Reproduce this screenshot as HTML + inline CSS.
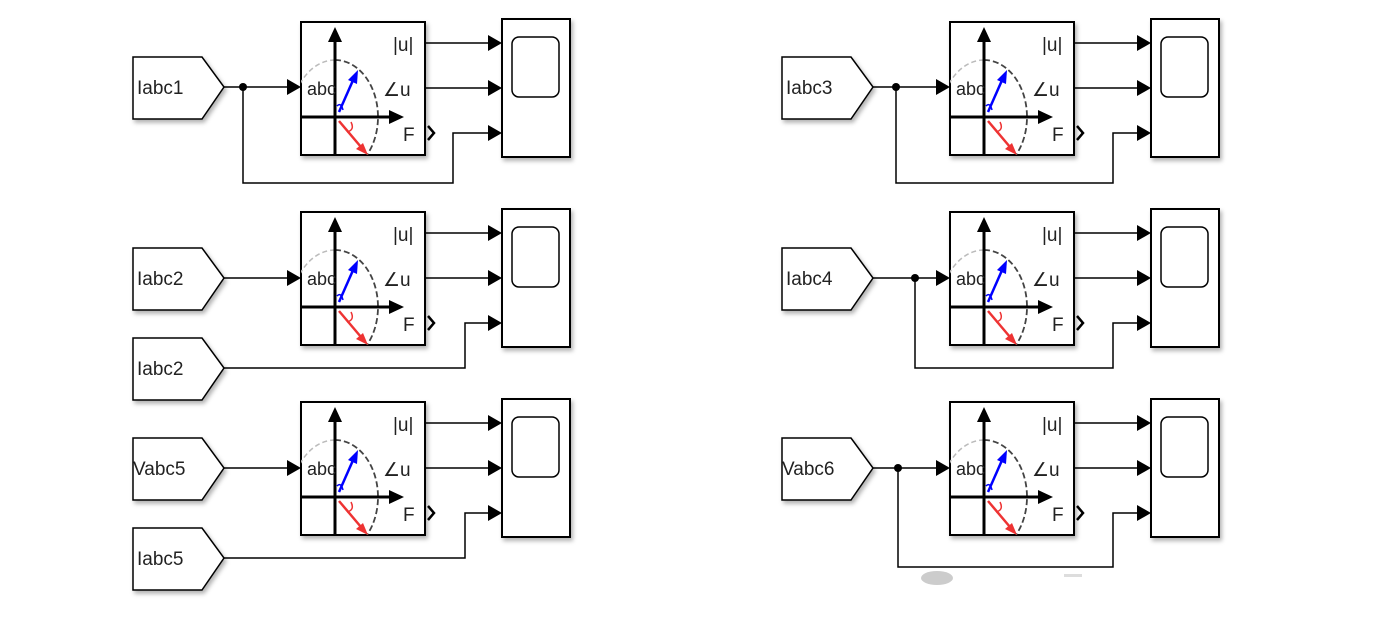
<!DOCTYPE html>
<html><head><meta charset="utf-8"><style>
html,body{margin:0;padding:0;background:#fff;width:1400px;height:642px;overflow:hidden}
svg{display:block}
text{font-family:"Liberation Sans",sans-serif;fill:#222}
</style></head><body>
<svg width="1400" height="642" viewBox="0 0 1400 642" xmlns="http://www.w3.org/2000/svg">
<defs>
<filter id="sh" x="-10%" y="-10%" width="130%" height="130%"><feDropShadow dx="2" dy="3" stdDeviation="2" flood-color="#000" flood-opacity="0.3"/></filter>
<clipPath id="fc"><rect x="0" y="0" width="124" height="133"/></clipPath>
<g id="fft">
<rect x="0" y="0" width="124" height="133" fill="#fff" stroke="#000" stroke-width="2" filter="url(#sh)"/>
<g clip-path="url(#fc)">
<path d="M34,38 A43,57 0 0 0 -9,95" fill="none" stroke="#bbb" stroke-width="1.5" stroke-dasharray="5,3"/>
<path d="M34,38 A43,57 0 0 1 77,95 A43,57 0 0 1 66,133" fill="none" stroke="#444" stroke-width="1.8" stroke-dasharray="6,3"/>
</g>
<line x1="34" y1="133" x2="34" y2="18" stroke="#000" stroke-width="3"/>
<polygon points="34,5 27,20 41,20" fill="#000"/>
<line x1="0" y1="95" x2="90" y2="95" stroke="#000" stroke-width="3"/>
<polygon points="103,95 88,88 88,102" fill="#000"/>
<line x1="38" y1="90" x2="53" y2="56" stroke="#00f" stroke-width="2.5"/>
<polygon points="57,48 47,58 56,62" fill="#00f"/>
<path d="M36,84 Q40,80 42,88" fill="none" stroke="#00f" stroke-width="1.5"/>
<line x1="38" y1="99" x2="60" y2="125" stroke="#e33" stroke-width="2.5"/>
<polygon points="67,133 55,127 62,121" fill="#e33"/>
<path d="M50,100 Q54,108 46,110" fill="none" stroke="#e33" stroke-width="1.5"/>
<polyline points="127,104 133,111 127,118" fill="none" stroke="#000" stroke-width="2.5"/>
</g>
<g id="scope">
<rect x="0" y="0" width="68" height="138" fill="#fff" stroke="#000" stroke-width="2" filter="url(#sh)"/>
<rect x="10" y="18" width="47" height="60" rx="7" fill="#fff" stroke="#000" stroke-width="1.5"/>
</g>
<g id="goto">
<polygon points="0,-30 69,-30 91,0 69,32 0,32" fill="#fff" stroke="#000" stroke-width="1.5" filter="url(#sh)"/>
</g>
<polygon id="ah" points="0,0 -14,-8 -14,8" fill="#000"/>
</defs>

<g fill="none" stroke="#000" stroke-width="1.5">
<path d="M224,87 H290 M243,87 V183 H453 V133 H490 M425,43 H490 M425,88 H490"/>
<path d="M224,278 H290 M425,233 H490 M425,278 H490 M224,368 H465 V323 H490"/>
<path d="M224,468 H290 M425,423 H490 M425,468 H490 M224,558 H465 V513 H490"/>
<path d="M873,87 H938 M896,87 V183 H1113 V133 H1139 M1073,43 H1139 M1073,88 H1139"/>
<path d="M873,278 H938 M915,278 V368 H1113 V323 H1139 M1073,233 H1139 M1073,278 H1139"/>
<path d="M873,468 H938 M898,468 V567 H1113 V513 H1139 M1073,423 H1139 M1073,468 H1139"/>
</g>
<g fill="#000">
<circle cx="243" cy="87" r="4"/><circle cx="896" cy="87" r="4"/><circle cx="915" cy="278" r="4"/><circle cx="898" cy="468" r="4"/>
</g>
<use href="#ah" x="301" y="87"/><use href="#ah" x="301" y="278"/><use href="#ah" x="301" y="468"/>
<use href="#ah" x="950" y="87"/><use href="#ah" x="950" y="278"/><use href="#ah" x="950" y="468"/>
<use href="#ah" x="502" y="43"/><use href="#ah" x="502" y="88"/><use href="#ah" x="502" y="133"/>
<use href="#ah" x="502" y="233"/><use href="#ah" x="502" y="278"/><use href="#ah" x="502" y="323"/>
<use href="#ah" x="502" y="423"/><use href="#ah" x="502" y="468"/><use href="#ah" x="502" y="513"/>
<use href="#ah" x="1151" y="43"/><use href="#ah" x="1151" y="88"/><use href="#ah" x="1151" y="133"/>
<use href="#ah" x="1151" y="233"/><use href="#ah" x="1151" y="278"/><use href="#ah" x="1151" y="323"/>
<use href="#ah" x="1151" y="423"/><use href="#ah" x="1151" y="468"/><use href="#ah" x="1151" y="513"/>

<use href="#goto" x="133" y="87"/><text x="137" y="94" font-size="19">Iabc1</text>
<use href="#goto" x="133" y="278"/><text x="137" y="285" font-size="19">Iabc2</text>
<use href="#goto" x="133" y="368"/><text x="137" y="375" font-size="19">Iabc2</text>
<use href="#goto" x="133" y="468"/><text x="133" y="475" font-size="19">Vabc5</text>
<use href="#goto" x="133" y="558"/><text x="137" y="565" font-size="19">Iabc5</text>
<use href="#goto" x="782" y="87"/><text x="786" y="94" font-size="19">Iabc3</text>
<use href="#goto" x="782" y="278"/><text x="786" y="285" font-size="19">Iabc4</text>
<use href="#goto" x="782" y="468"/><text x="782" y="475" font-size="19">Vabc6</text>

<g transform="translate(301,22)"><use href="#fft"/><text x="6" y="73" font-size="18">abc</text><text x="92" y="29" font-size="19">|u|</text><text x="82" y="74" font-size="19">∠u</text><text x="102" y="119" font-size="19">F</text></g>
<g transform="translate(301,212)"><use href="#fft"/><text x="6" y="73" font-size="18">abc</text><text x="92" y="29" font-size="19">|u|</text><text x="82" y="74" font-size="19">∠u</text><text x="102" y="119" font-size="19">F</text></g>
<g transform="translate(301,402)"><use href="#fft"/><text x="6" y="73" font-size="18">abc</text><text x="92" y="29" font-size="19">|u|</text><text x="82" y="74" font-size="19">∠u</text><text x="102" y="119" font-size="19">F</text></g>
<g transform="translate(950,22)"><use href="#fft"/><text x="6" y="73" font-size="18">abc</text><text x="92" y="29" font-size="19">|u|</text><text x="82" y="74" font-size="19">∠u</text><text x="102" y="119" font-size="19">F</text></g>
<g transform="translate(950,212)"><use href="#fft"/><text x="6" y="73" font-size="18">abc</text><text x="92" y="29" font-size="19">|u|</text><text x="82" y="74" font-size="19">∠u</text><text x="102" y="119" font-size="19">F</text></g>
<g transform="translate(950,402)"><use href="#fft"/><text x="6" y="73" font-size="18">abc</text><text x="92" y="29" font-size="19">|u|</text><text x="82" y="74" font-size="19">∠u</text><text x="102" y="119" font-size="19">F</text></g>

<use href="#scope" x="502" y="19"/><use href="#scope" x="502" y="209"/><use href="#scope" x="502" y="399"/>
<use href="#scope" x="1151" y="19"/><use href="#scope" x="1151" y="209"/><use href="#scope" x="1151" y="399"/>

<ellipse cx="937" cy="578" rx="16" ry="7" fill="#ccc"/>
<rect x="1064" y="574" width="18" height="3" fill="#ddd"/>
</svg>
</body></html>
